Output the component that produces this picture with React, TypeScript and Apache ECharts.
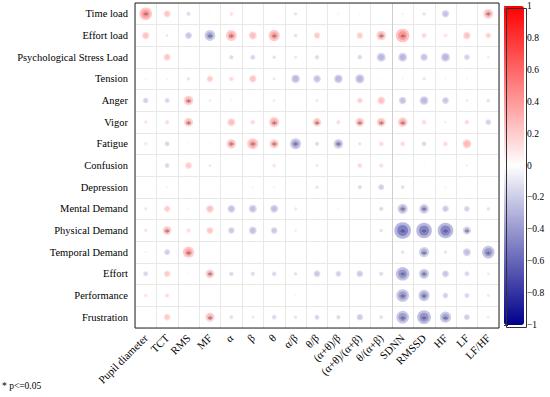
import React, { useEffect, useRef } from "react";
import * as echarts from "echarts";

const columns = ["Pupil diameter", "TCT", "RMS", "MF", "α", "β", "θ", "α/β", "θ/β", "(α+θ)/β", "(α+θ)/(α+β)", "θ/(α+β)", "SDNN", "RMSSD", "HF", "LF", "LF/HF"];
const rows = ["Time load", "Effort load", "Psychological Stress Load", "Tension", "Anger", "Vigor", "Fatigue", "Confusion", "Depression", "Mental Demand", "Physical Demand", "Temporal Demand", "Effort", "Performance", "Frustration"];

const timeLoad = [0.55, 0.31, -0.2, 0.08, 0.18, 0.04, 0.07, -0.16, 0.03, -0.08, -0.09, 0.03, -0.09, -0.17, -0.33, 0.01, 0.43];
const effortLoad = [0.33, -0.13, -0.31, -0.47, 0.47, 0.35, 0.49, -0.17, 0.29, 0.03, 0.29, 0.42, 0.59, 0.23, 0.18, 0.33, 0.26];
const psychStress = [0.07, 0.31, 0.01, 0, -0.2, -0.23, -0.17, 0.16, -0.2, 0.01, -0.22, -0.39, -0.39, -0.33, -0.39, -0.26, 0.13];
const tension = [-0.09, -0.09, -0.16, 0.29, 0.22, 0.33, 0.16, -0.38, -0.34, -0.38, -0.4, -0.07, 0.09, -0.16, -0.08, 0.09, 0.03];
const anger = [-0.26, -0.23, 0.42, 0.13, 0.1, 0.01, 0.14, 0.05, 0.16, 0, 0.26, 0.34, -0.33, -0.38, -0.31, -0.13, -0.17];
const vigor = [0.16, 0.2, 0.39, 0.07, 0.35, 0.22, 0.44, 0.04, 0.38, 0.2, 0.39, 0.39, 0.42, 0.22, 0.13, 0.22, -0.26];
const fatigue = [0.16, -0.23, 0.09, -0.08, 0.42, 0.48, 0.4, -0.48, -0.2, -0.42, -0.16, 0.22, 0.22, -0.22, 0.22, 0.39, 0.05];
const confusion = [0.04, -0.22, 0.3, -0.13, 0.05, 0, 0.17, 0, 0.16, 0.05, 0.22, 0.2, 0.01, -0.08, 0.05, 0.12, 0.01];
const depression = [0.03, -0.08, -0.05, -0.05, -0.05, -0.08, -0.09, 0.05, -0.16, 0.03, -0.2, -0.27, -0.18, -0.05, -0.09, -0.05, -0.05];
const mentalDemand = [0.16, 0.29, -0.08, 0.34, -0.34, -0.35, -0.35, 0.16, 0.03, 0.09, 0.05, -0.2, -0.44, -0.42, -0.3, -0.26, -0.17];
const physicalDemand = [0.17, 0.39, 0.2, 0.31, -0.29, -0.34, -0.3, 0.13, 0.04, 0.05, 0.03, -0.17, -0.72, -0.68, -0.68, -0.36, 0.03];
const temporalDemand = [-0.1, -0.27, 0.49, 0.03, -0.03, -0.04, -0.05, -0.05, 0, 0.01, 0.05, -0.07, -0.17, -0.44, -0.16, -0.35, -0.55];
const effort = [-0.23, 0.29, -0.08, 0.39, -0.21, -0.2, -0.22, -0.17, -0.3, -0.26, -0.3, -0.2, -0.59, -0.44, -0.31, -0.23, -0.13];
const performance = [0.17, 0.2, 0.01, 0.07, 0, 0.01, 0, -0.08, -0.05, -0.07, 0.05, 0, -0.55, -0.49, -0.26, -0.23, 0.16];
const frustration = [0.04, 0.3, 0.01, 0.4, -0.18, -0.13, -0.22, -0.16, -0.23, -0.2, -0.29, -0.18, -0.55, -0.6, -0.49, -0.27, -0.13];

const matrix = [timeLoad, effortLoad, psychStress, tension, anger, vigor, fatigue, confusion, depression, mentalDemand, physicalDemand, temporalDemand, effort, performance, frustration];

// column indices significant at p<=0.05, per row
const significant = [
  [0, 16],
  [3, 4, 6, 11, 12],
  [],
  [],
  [2],
  [2, 6, 8, 10, 11, 12],
  [4, 5, 6, 7, 9],
  [],
  [],
  [12, 13],
  [1, 12, 13, 14, 15],
  [2, 13, 16],
  [3, 12, 13],
  [12, 13],
  [3, 12, 13, 14],
];

const colorTicks = [-1, -0.8, -0.6, -0.4, -0.2, 0, 0.2, 0.4, 0.6, 0.8, 1];

const FONT = "Liberation Serif";

export default function App() {
  const ref = useRef<HTMLDivElement>(null);
  useEffect(() => {
    document.body.style.margin = "0";
    if (!ref.current) return;
    const chart = echarts.init(ref.current, null, { renderer: "svg" });
    const data: any[] = [];
    matrix.forEach((row, ri) => {
      row.forEach((v, ci) => {
        data.push([ci, ri, v, significant[ri].includes(ci) ? 1 : 0]);
      });
    });
    const splitColors = columns.map((_, i) => (i === 12 ? "#cfcfcf" : "#e8e8e8"));
    chart.setOption({
      animation: false,
      textStyle: { fontFamily: FONT },
      grid: [
        { left: 135, top: 3, width: 364, height: 325, show: true, borderColor: "#222", borderWidth: 1, backgroundColor: "transparent", z: 3 },
        { left: 504, top: 6, width: 20, height: 319, show: false },
      ],
      xAxis: [
        {
          type: "category",
          data: columns,
          gridIndex: 0,
          position: "bottom",
          axisLine: { show: false },
          axisTick: { show: false },
          splitLine: { show: true, interval: 0, lineStyle: { color: splitColors, width: 1 } },
          axisLabel: { interval: 0, rotate: 45, fontSize: 11, color: "#000", fontFamily: FONT, margin: 8 },
        },
        { type: "value", gridIndex: 1, show: false, min: 0, max: 1 },
      ],
      yAxis: [
        {
          type: "category",
          data: rows,
          gridIndex: 0,
          inverse: true,
          axisLine: { show: false },
          axisTick: { show: false },
          splitLine: { show: true, interval: 0, lineStyle: { color: "#e8e8e8", width: 1 } },
          axisLabel: { interval: 0, fontSize: 10.5, color: "#000", fontFamily: FONT, margin: 7 },
        },
        {
          type: "value",
          gridIndex: 1,
          position: "right",
          min: -1,
          max: 1,
          interval: 0.2,
          axisLine: { show: false },
          axisTick: { show: true, length: 4, lineStyle: { color: "#333" } },
          splitLine: { show: false },
          axisLabel: {
            fontSize: 9.5,
            color: "#000",
            fontFamily: FONT,
            margin: 3,
            formatter: (v: number) => {
              const r = Math.round(v * 10) / 10;
              if (!colorTicks.includes(r)) return "";
              return String(r).replace("-", "−");
            },
          },
        },
      ],
      visualMap: {
        type: "continuous",
        min: -1,
        max: 1,
        dimension: 2,
        seriesIndex: [0, 1],
        left: 504,
        top: 6,
        itemWidth: 20,
        itemHeight: 319,
        padding: 0,
        calculable: false,
        text: ["", ""],
        showLabel: false,
        inRange: { color: ["#00008b", "#ffffff", "#ff0000"] },
        borderWidth: 0,
      },
      series: [
        {
          type: "scatter",
          xAxisIndex: 0,
          yAxisIndex: 0,
          data,
          symbol: "circle",
          symbolSize: (d: any) => Math.abs(d[2]) * 23,
          itemStyle: { opacity: 0.4 },
          silent: true,
          z: 2,
        },
        {
          type: "scatter",
          xAxisIndex: 0,
          yAxisIndex: 0,
          data,
          symbol: "circle",
          symbolSize: (d: any) => Math.abs(d[2]) * 23 * 0.65,
          itemStyle: { opacity: 0.5 },
          silent: true,
          z: 3,
          label: {
            show: true,
            position: "inside",
            formatter: (p: any) => (p.data[3] ? "*" : ""),
            color: "#1a1a1a",
            fontSize: 11,
            fontFamily: FONT,
            offset: [0, 1.5],
          },
        },
      ],
      graphic: [
        {
          type: "text",
          left: 2,
          top: 381,
          style: { text: "* p<=0.05", font: `9.5px "${FONT}"`, fill: "#000" },
        },
        {
          type: "rect",
          left: 504,
          top: 6,
          shape: { width: 20, height: 319 },
          style: { fill: "none", stroke: "#333", lineWidth: 1 },
          z: 100,
        },
      ],
    });
    return () => chart.dispose();
  }, []);
  return <div ref={ref} style={{ width: 550, height: 397 }} />;
}
